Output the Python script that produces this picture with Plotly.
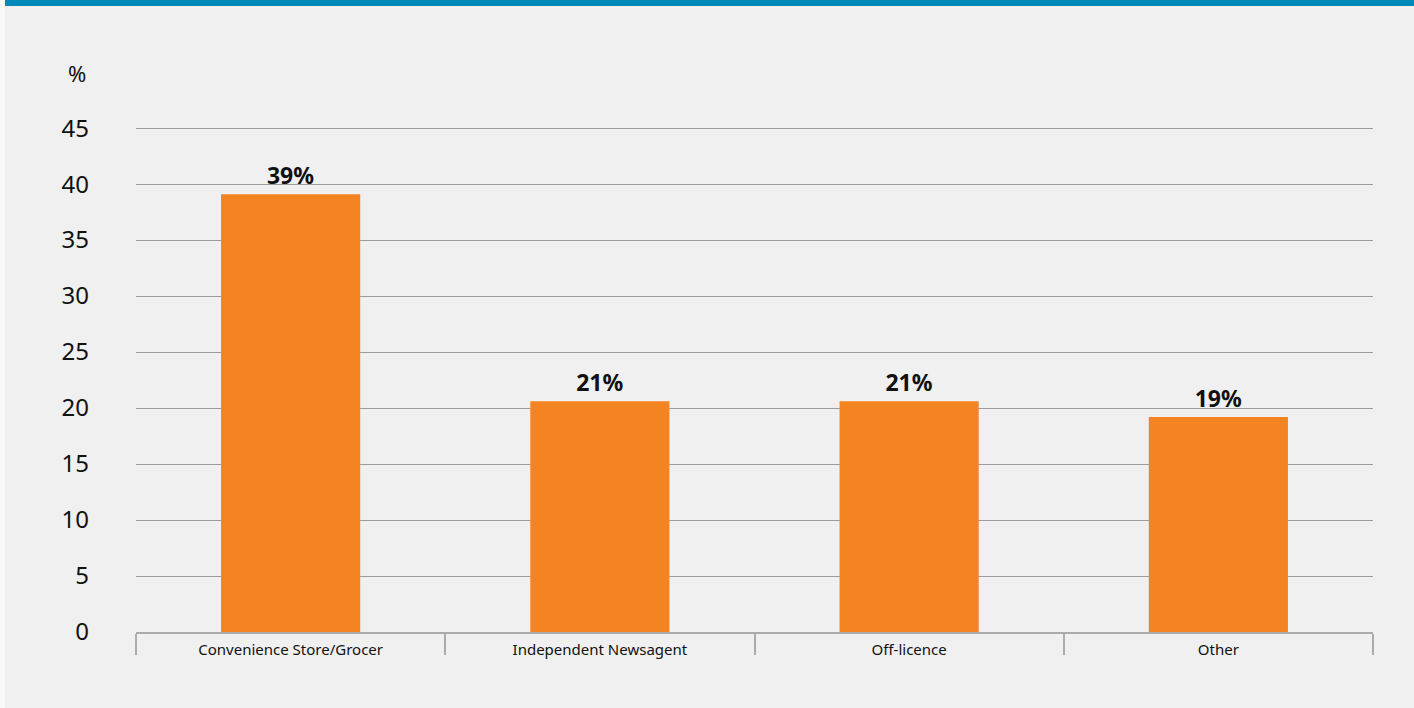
import plotly.graph_objects as go

# Share of purchases by retail outlet type (%)
categories = ["Convenience Store/Grocer", "Independent Newsagent", "Off-licence", "Other"]
shares = [39.1, 20.6, 20.6, 19.2]
y_ticks = [0, 5, 10, 15, 20, 25, 30, 35, 40, 45]

W, H = 1414, 708
M_L, M_R, M_T, M_B = 136, 41, 127, 76
PW, PH = W - M_L - M_R, H - M_T - M_B

def px_x(x):
    return (x - M_L) / PW

def px_y(y):
    return (H - M_B - y) / PH

BAR = "#F48322"
GRID = "#9C9C9C"
FONT = "Noto Sans"

fig = go.Figure(
    go.Bar(
        x=categories,
        y=shares,
        width=0.45,
        marker=dict(color=BAR, line=dict(width=0)),
        texttemplate="%{y:.0f}%",
        textposition="outside",
        textfont=dict(family=FONT, size=23, color="#111111", weight="bold"),
        cliponaxis=False,
        hoverinfo="skip",
    )
)

fig.update_layout(
    width=W,
    height=H,
    margin=dict(l=M_L, r=M_R, t=M_T, b=M_B, pad=0),
    paper_bgcolor="#F0F0F0",
    plot_bgcolor="rgba(0,0,0,0)",
    showlegend=False,
    bargap=0.55,
    font=dict(family=FONT, color="#111111"),
    xaxis=dict(
        type="category",
        tickson="boundaries",
        ticks="outside",
        ticklen=21,
        tickwidth=2,
        tickcolor="#ABABAB",
        showline=True,
        linecolor="#ABABAB",
        linewidth=2,
        showgrid=False,
        tickfont=dict(family=FONT, size=15, color="#111111"),
        ticklabelstandoff=3,
        fixedrange=True,
    ),
    yaxis=dict(
        range=[0, 45.1],
        tickvals=y_ticks,
        showgrid=True,
        gridcolor=GRID,
        gridwidth=1,
        zeroline=False,
        showline=False,
        ticks="",
        tickfont=dict(family=FONT, size=24, color="#111111"),
        ticklabelstandoff=46,
        fixedrange=True,
    ),
    annotations=[
        dict(
            text="%",
            xref="paper", yref="paper",
            x=px_x(77), y=px_y(73),
            xanchor="center", yanchor="middle",
            showarrow=False,
            font=dict(family=FONT, size=22, color="#111111"),
        )
    ],
    shapes=[
        # blue header strip
        dict(type="rect", xref="paper", yref="paper",
             x0=px_x(0), x1=px_x(W), y0=px_y(6), y1=px_y(0),
             fillcolor="#0089B9", line=dict(width=0), layer="below"),
        # light left edge
        dict(type="rect", xref="paper", yref="paper",
             x0=px_x(0), x1=px_x(5), y0=px_y(H), y1=px_y(0),
             fillcolor="#F8F8F8", line=dict(width=0), layer="below"),
    ],
)

fig.write_html("out.html")
